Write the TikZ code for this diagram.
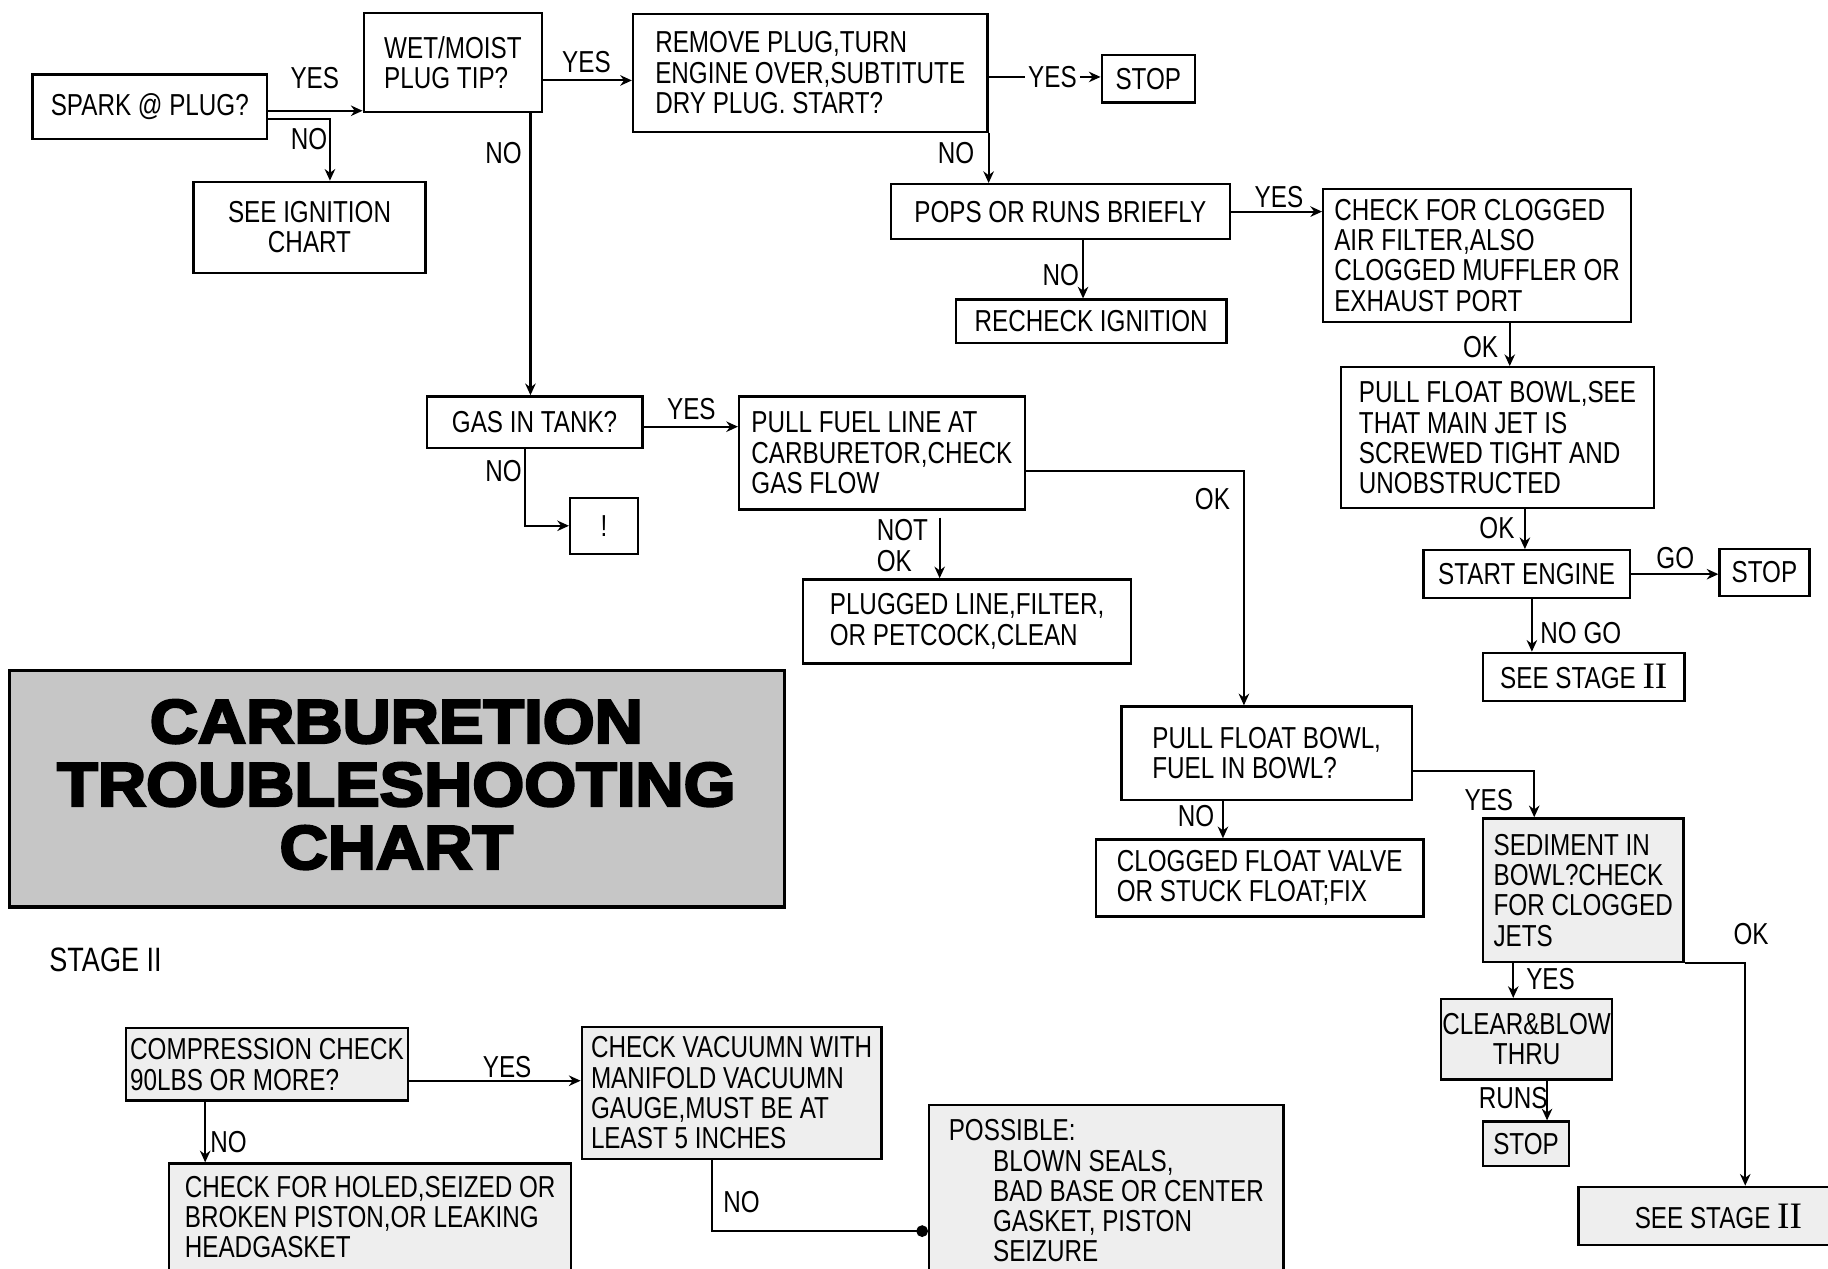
\documentclass[tikz,border=0pt]{standalone}
\usepackage{fontspec}
\setmainfont{Liberation Sans}[FakeStretch=0.8]
\newfontfamily\titlefont{Liberation Sans}[FakeBold=4,FakeStretch=1.08]
\newfontfamily\serfont{Liberation Serif}
\newcommand\romII{{\serfont\fontsize{16}{13}\selectfont II}}
\usetikzlibrary{arrows.meta}
\definecolor{titlegray}{HTML}{C6C6C6}
\definecolor{lightfill}{HTML}{EEEEEE}
\newcommand\flbox[7][]{%
 \pgfmathsetmacro\flbw{(#5-#3)*0.5}%
 \pgfmathsetmacro\flbh{(#6-#4)*0.5}%
 \pgfmathsetmacro\flbx{(#3+#5)/2}%
 \pgfmathsetmacro\flby{(#4+#6)/2}%
 \node[box,minimum width=\flbw pt,minimum height=\flbh pt,#1] (#2) at (\flbx,\flby) {#7};}
\begin{document}
\begin{tikzpicture}[x=0.5pt,y=-0.5pt,
  font=\fontsize{13}{13}\selectfont,
  box/.style={draw, line width=1pt, inner xsep=1.5pt, inner ysep=2pt, align=left},
  lbl/.style={inner sep=0pt},
  ttl/.style={inner sep=0pt, font=\titlefont\bfseries\fontsize{26.5}{27.5}\selectfont},
  arr/.style={line width=0.9pt, -{Stealth[length=5pt,width=4.5pt]}},
  gfill/.style={fill=lightfill}]
\useasboundingbox (0,0) rectangle (1568,1088);

% ---------- boxes ----------
\flbox{spark}{28}{64}{229}{119}{SPARK @ PLUG?}
\flbox{wet}{312}{11}{465}{96}{WET/MOIST\\PLUG TIP?}
\flbox[align=center]{ign}{166}{156}{365}{234}{SEE IGNITION\\CHART}
\flbox{remove}{543}{12}{847}{113}{REMOVE PLUG,TURN\\ENGINE OVER,SUBTITUTE\\DRY PLUG. START?}
\flbox{stopa}{945}{47}{1025}{88}{STOP}
\flbox{pops}{764}{158}{1055}{205}{POPS OR RUNS BRIEFLY}
\flbox{recheck}{820}{257}{1052}{294}{RECHECK IGNITION}
\flbox{clog}{1135}{162}{1399}{276}{CHECK FOR CLOGGED\\AIR FILTER,ALSO\\CLOGGED MUFFLER OR\\EXHAUST PORT}
\flbox{pullsee}{1150}{315}{1419}{436}{PULL FLOAT BOWL,SEE\\THAT MAIN JET IS\\SCREWED TIGHT AND\\UNOBSTRUCTED}
\flbox{start}{1221}{472}{1398}{513}{START ENGINE}
\flbox{stopb}{1475}{471}{1552}{511}{STOP}
\flbox{stagea}{1272}{560}{1445}{601}{SEE STAGE \romII}
\flbox{gas}{366}{340}{551}{384}{GAS IN TANK?}
\flbox{bang}{489}{427}{547}{475}{!}
\flbox{fuel}{634}{340}{879}{437}{PULL FUEL LINE AT\\CARBURETOR,CHECK\\GAS FLOW}
\flbox{plugged}{689}{497}{970}{569}{PLUGGED LINE,FILTER,\\OR PETCOCK,CLEAN}
\flbox{bowl}{962}{606}{1211}{686}{PULL FLOAT BOWL,\\FUEL IN BOWL?}
\flbox{float}{940}{720}{1221}{786}{CLOGGED FLOAT VALVE\\OR STUCK FLOAT;FIX}
\flbox[gfill]{sed}{1272}{702}{1444}{825}{SEDIMENT IN\\BOWL?CHECK\\FOR CLOGGED\\JETS}
\flbox[gfill,align=center,inner xsep=0.5pt]{clear}{1237}{857}{1382}{926}{CLEAR\&BLOW\\THRU}
\flbox[gfill]{stopc}{1272}{962}{1346}{1000}{STOP}
\flbox[gfill]{stageb}{1354}{1018}{1594}{1068}{SEE STAGE \romII}

\flbox[fill=titlegray,line width=1.5pt]{title}{8}{575}{673}{778}{}
\node[ttl] (t1) at (340,619) {CARBURETION};
\node[ttl] (t2) at (340,673) {TROUBLESHOOTING};
\node[ttl] (t3) at (340,727) {CHART};
\node[lbl,anchor=west,font=\fontsize{14.5}{15}\selectfont] (stg) at (42,823) {STAGE II};

\flbox[gfill]{comp}{108}{882}{350}{944}{COMPRESSION CHECK\\90LBS OR MORE?}
\flbox[gfill]{vac}{499}{881}{756}{994}{CHECK VACUUMN WITH\\MANIFOLD VACUUMN\\GAUGE,MUST BE AT\\LEAST 5 INCHES}
\flbox[gfill]{holed}{145}{998}{490}{1090}{CHECK FOR HOLED,SEIZED OR\\BROKEN PISTON,OR LEAKING\\HEADGASKET}
\flbox[gfill]{poss}{797}{948}{1101}{1095}{POSSIBLE:\\\hspace*{19pt}BLOWN SEALS,\\\hspace*{19pt}BAD BASE OR CENTER\\\hspace*{19pt}GASKET, PISTON\\\hspace*{19pt}SEIZURE}

% ---------- connectors ----------
\draw[arr] (spark.east |- 0,95) -- (wet.west |- 0,95);
\node[lbl] (l1) at (270,67) {YES};
\draw[arr] (spark.east |- 0,102) -| (ign.north -| 283,0);
\node[lbl] (l2) at (265,119) {NO};
\draw[arr] (wet.east |- 0,69) -- (remove.west |- 0,69);
\node[lbl] (l3) at (503,53) {YES};
\draw[arr] (wet.south -| 455,0) -- (gas.north -| 455,0);
\node[lbl] (l4) at (432,131) {NO};
\draw[arr] (remove.east |- 0,66) -- node[pos=0.57,fill=white,inner sep=1.5pt] (l5) {YES} (stopa.west |- 0,66);
\draw[arr] (remove.south east) -- (pops.north -| remove.south east);
\node[lbl] (l6) at (820,131) {NO};
\draw[arr] (pops.south -| 929,0) -- (recheck.north -| 929,0);
\node[lbl] (l7) at (910,236) {NO};
\draw[arr] (pops.east) -- (clog.west |- pops.east);
\node[lbl] (l8) at (1097,169) {YES};
\draw[arr] (clog.south -| 1295,0) -- (pullsee.north -| 1295,0);
\node[lbl] (l9) at (1270,298) {OK};
\draw[arr] (pullsee.south -| 1308,0) -- (start.north -| 1308,0);
\node[lbl] (l10) at (1284,453) {OK};
\draw[arr] (start.east) -- (stopb.west |- start.east);
\node[lbl] (l11) at (1437,479) {GO};
\draw[arr] (start.south -| 1314,0) -- (stagea.north -| 1314,0);
\node[lbl] (l12) at (1356,543) {NO GO};

\draw[arr] (gas.east |- 0,366) -- (fuel.west |- 0,366);
\node[lbl] (l13) at (593,351) {YES};
\draw[arr] (gas.south -| 450,0) |- (bang.west);
\node[lbl] (l14) at (432,404) {NO};
\draw[arr] ([yshift=-3pt]fuel.south -| 806,0) -- (plugged.north -| 806,0);
\node[lbl,align=left] (l15) at (774,468) {NOT\\OK};
\draw[arr] (fuel.east |- 0,404) -| (bowl.north -| 1067,0);
\node[lbl] (l16) at (1040,428) {OK};
\draw[arr] (bowl.south -| 1049,0) -- (float.north -| 1049,0);
\node[lbl] (l17) at (1026,700) {NO};
\draw[arr] (bowl.east |- 0,661) -| (sed.north -| 1316,0);
\node[lbl] (l18) at (1277,686) {YES};
\draw[arr] (sed.south -| 1298,0) -- (clear.north -| 1298,0);
\node[lbl] (l19) at (1330,840) {YES};
\draw[arr] (sed.south east) -| (stageb.north -| 1497,0);
\node[lbl] (l20) at (1502,801) {OK};
\draw[arr] (clear.south -| 1327,0) -- (stopc.north -| 1327,0);
\node[lbl] (l21) at (1298,942) {RUNS};

\draw[arr] (comp.east |- 0,927) -- (vac.west |- 0,927);
\node[lbl] (l22) at (435,915) {YES};
\draw[arr] (comp.south -| 176,0) -- (holed.north -| 176,0);
\node[lbl] (l23) at (196,980) {NO};
\draw[line width=0.9pt,-{Circle[length=5pt]}] (vac.south -| 611,0) |- (poss.west |- 0,1056);
\node[lbl] (l24) at (636,1031) {NO};
\end{tikzpicture}
\end{document}
